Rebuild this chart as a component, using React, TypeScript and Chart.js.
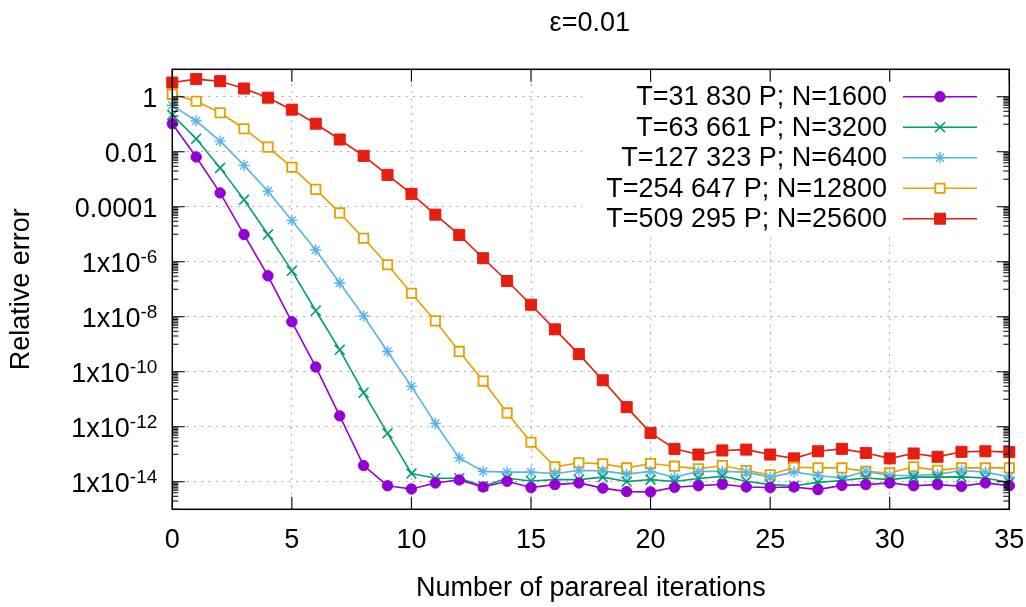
import React, { useEffect, useRef } from 'react';
import { Chart, registerables } from 'chart.js';
import { drawPoint } from 'chart.js/helpers';

Chart.register(...registerables);

// ---------------- data ----------------
const chartTitle = 'ε=0.01';
const xAxisTitle = 'Number of parareal iterations';
const yAxisTitle = 'Relative error';

const iterations = [
  0, 1, 2, 3, 4, 5, 6, 7, 8, 9, 10, 11, 12, 13, 14, 15, 16, 17,
  18, 19, 20, 21, 22, 23, 24, 25, 26, 27, 28, 29, 30, 31, 32, 33, 34, 35,
];

const seriesLabels = [
  'T=31 830 P; N=1600',
  'T=63 661 P; N=3200',
  'T=127 323 P; N=6400',
  'T=254 647 P; N=12800',
  'T=509 295 P; N=25600',
];

const errN1600 = [
  1.05e-1, 6.5e-3, 3.2e-4, 9.8e-6, 3.1e-7, 6.6e-9, 1.5e-10, 2.5e-12, 3.9e-14, 7.2e-15,
  5.5e-15, 9.1e-15, 1.17e-14, 6.5e-15, 1.05e-14, 6.2e-15, 7.9e-15, 9.1e-15, 5.9e-15, 4.4e-15,
  4.3e-15, 6.3e-15, 7.2e-15, 8.1e-15, 6.5e-15, 6.2e-15, 6.5e-15, 5.2e-15, 7.4e-15, 7.9e-15,
  9.1e-15, 7.2e-15, 7.9e-15, 6.9e-15, 9.1e-15, 7.2e-15,
];

const errN3200 = [
  2.2e-1, 3.0e-2, 2.6e-3, 1.8e-4, 9.8e-6, 4.7e-7, 1.66e-8, 6.3e-10, 1.74e-11, 5.8e-13,
  2.0e-14, 1.35e-14, 1.35e-14, 6.9e-15, 1.35e-14, 1.07e-14, 1.2e-14, 1.2e-14, 1.48e-14, 1.02e-14,
  1.2e-14, 1.02e-14, 1.32e-14, 1.58e-14, 1.05e-14, 7.9e-15, 7.2e-15, 9.5e-15, 1.12e-14, 1.38e-14,
  1.2e-14, 1.48e-14, 1.48e-14, 1.51e-14, 1.38e-14, 9.5e-15,
];

const errN6400 = [
  4.9e-1, 1.32e-1, 2.45e-2, 3.2e-3, 3.7e-4, 3.2e-5, 2.7e-6, 1.7e-7, 1.07e-8, 5.5e-10,
  2.95e-11, 1.32e-12, 7.4e-14, 2.4e-14, 2.24e-14, 2.24e-14, 2.0e-14, 2.57e-14, 2.5e-14, 1.9e-14,
  2.4e-14, 1.45e-14, 2.4e-14, 2.4e-14, 2.24e-14, 1.48e-14, 2.24e-14, 1.7e-14, 1.38e-14, 2.4e-14,
  1.7e-14, 1.7e-14, 1.86e-14, 2.57e-14, 2.24e-14, 1.51e-14,
];

const errN12800 = [
  1.23, 6.9e-1, 2.63e-1, 6.9e-2, 1.48e-2, 2.75e-3, 4.3e-4, 6.0e-5, 7.2e-6, 7.8e-7,
  7.2e-8, 7.1e-9, 5.5e-10, 4.6e-11, 3.2e-12, 2.75e-13, 3.5e-14, 4.9e-14, 4.5e-14, 3.2e-14,
  4.6e-14, 3.7e-14, 2.95e-14, 3.9e-14, 2.57e-14, 1.8e-14, 3.4e-14, 3.2e-14, 3.2e-14, 2.4e-14,
  2.1e-14, 3.5e-14, 2.6e-14, 3.2e-14, 3.2e-14, 3.2e-14,
];

const errN25600 = [
  3.3, 4.4, 3.7, 2.0, 9.3e-1, 3.4e-1, 1.05e-1, 2.8e-2, 7.1e-3, 1.45e-3,
  2.95e-4, 5.2e-5, 9.5e-6, 1.35e-6, 2.0e-7, 2.75e-8, 3.5e-9, 4.4e-10, 4.9e-11, 5.2e-12,
  6.0e-13, 1.58e-13, 9.8e-14, 1.38e-13, 1.48e-13, 9.8e-14, 7.1e-14, 1.29e-13, 1.58e-13, 1.12e-13,
  7.1e-14, 1.07e-13, 8.1e-14, 1.23e-13, 1.29e-13, 1.2e-13,
];

const yMajorTicks = [1e-14, 1e-12, 1e-10, 1e-8, 1e-6, 1e-4, 1e-2, 1];
const yTickMain = ['1x10', '1x10', '1x10', '1x10', '1x10', '0.0001', '0.01', '1'];
const yTickSup = ['-14', '-12', '-10', '-8', '-6', '', '', ''];
const yMinorDecades = [1e-15, 1e-13, 1e-11, 1e-9, 1e-7, 1e-5, 1e-3, 1e-1];
const yMinorSteps = [1, 2, 3, 4, 5, 6, 7, 8, 9];

// ---------------- styling ----------------
const FONT = '"Liberation Sans", Arial, Helvetica, sans-serif';
const FS = 27;
const GRID_COLOR = '#a8a8a8';
const GRID_DASH = [2, 5.3];

const seriesStyles = [
  { color: '#9400d3', pointStyle: 'circle', radius: 5.2, pbw: 1, fill: '#9400d3' },
  { color: '#009e73', pointStyle: 'crossRot', radius: 7, pbw: 1.6, fill: '#009e73' },
  { color: '#56b4e9', pointStyle: 'star', radius: 5.6, pbw: 1.4, fill: '#56b4e9' },
  { color: '#e69f00', pointStyle: 'rect', radius: 6.6, pbw: 1.8, fill: '#ffffff' },
  { color: '#e51e10', pointStyle: 'rect', radius: 7.8, pbw: 1, fill: '#e51e10' },
];

const seriesValues = [errN1600, errN3200, errN6400, errN12800, errN25600];

const decorPlugin = {
  id: 'gnuplotDecor',
  beforeDraw(chart: any) {
    const { ctx, width, height } = chart;
    ctx.save();
    ctx.fillStyle = '#ffffff';
    ctx.fillRect(0, 0, width, height);
    ctx.restore();
  },
  afterDatasetsDraw(chart: any) {
    const { ctx, chartArea: ca, scales } = chart;
    const xs = scales.x;
    const ys = scales.y;
    ctx.save();

    // ---- legend (opaque key) ----
    ctx.fillStyle = '#ffffff';
    ctx.fillRect(ca.right - 427, ca.top + 10.7, 411, 155);
    const rowY0 = ca.top + 27.4;
    const rowStep = 30.5;
    seriesLabels.forEach((label, i) => {
      const st = seriesStyles[i];
      const y = rowY0 + i * rowStep;
      ctx.font = `${FS}px ${FONT}`;
      ctx.fillStyle = '#000';
      ctx.textAlign = 'right';
      ctx.textBaseline = 'middle';
      ctx.fillText(label, ca.right - 122.3, y + 1);
      ctx.strokeStyle = st.color;
      ctx.lineWidth = 1.6;
      ctx.beginPath();
      ctx.moveTo(ca.right - 106.3, y);
      ctx.lineTo(ca.right - 32.3, y);
      ctx.stroke();
      ctx.fillStyle = st.fill;
      ctx.strokeStyle = st.color;
      ctx.lineWidth = st.pbw;
      drawPoint(ctx, { pointStyle: st.pointStyle as any, rotation: 0, radius: st.radius, borderWidth: st.pbw }, ca.right - 69.3, y);
    });

    // ---- frame ----
    ctx.strokeStyle = '#000';
    ctx.lineWidth = 1.5;
    ctx.strokeRect(ca.left, ca.top, ca.right - ca.left, ca.bottom - ca.top);

    // ---- inward ticks ----
    ctx.lineWidth = 1.1;
    ctx.beginPath();
    const MAJ = 12.5;
    const MIN = 6;
    xs.ticks.forEach((t: any) => {
      const px = xs.getPixelForValue(t.value);
      ctx.moveTo(px, ca.bottom);
      ctx.lineTo(px, ca.bottom - MAJ);
      ctx.moveTo(px, ca.top);
      ctx.lineTo(px, ca.top + MAJ);
    });
    yMajorTicks.forEach((v) => {
      const py = ys.getPixelForValue(v);
      ctx.moveTo(ca.left, py);
      ctx.lineTo(ca.left + MAJ, py);
      ctx.moveTo(ca.right, py);
      ctx.lineTo(ca.right - MAJ, py);
    });
    yMinorDecades.forEach((d) => {
      yMinorSteps.forEach((k) => {
        const v = d * k;
        if (v < ys.min || v > ys.max) return;
        const py = ys.getPixelForValue(v);
        ctx.moveTo(ca.left, py);
        ctx.lineTo(ca.left + MIN, py);
        ctx.moveTo(ca.right, py);
        ctx.lineTo(ca.right - MIN, py);
      });
    });
    ctx.stroke();

    // ---- y tick labels (with superscripts) ----
    ctx.fillStyle = '#000';
    ctx.textBaseline = 'alphabetic';
    ctx.textAlign = 'right';
    const rightEdge = ca.left - 15;
    yMajorTicks.forEach((v, i) => {
      const py = ys.getPixelForValue(v);
      const sup = yTickSup[i];
      let supW = 0;
      if (sup) {
        ctx.font = `${19}px ${FONT}`;
        supW = ctx.measureText(sup).width;
        ctx.fillText(sup, rightEdge, py + 0.8);
      }
      ctx.font = `${FS}px ${FONT}`;
      ctx.fillText(yTickMain[i], rightEdge - supW, py + 9.8);
    });

    // ---- title ----
    ctx.font = `${FS}px ${FONT}`;
    ctx.textAlign = 'center';
    ctx.textBaseline = 'alphabetic';
    ctx.fillText(chartTitle, (ca.left + ca.right) / 2 - 1, 31);

    ctx.restore();
  },
};

export default function App() {
  const ref = useRef<HTMLCanvasElement>(null);
  useEffect(() => {
    document.body.style.margin = '0';
    const canvas = ref.current!;
    const datasets = seriesValues.map((vals, i) => {
      const st = seriesStyles[i];
      return {
        label: seriesLabels[i],
        data: iterations.map((x, j) => ({ x, y: vals[j] })),
        borderColor: st.color,
        backgroundColor: st.fill,
        pointBackgroundColor: st.fill,
        pointBorderColor: st.color,
        pointStyle: st.pointStyle,
        pointRadius: st.radius,
        pointBorderWidth: st.pbw,
        borderWidth: 1.6,
        tension: 0,
        clip: false as any,
      };
    });
    const chart = new Chart(canvas, {
      type: 'line',
      data: { datasets: datasets as any },
      plugins: [decorPlugin],
      options: {
        animation: false,
        responsive: false,
        events: [],
        layout: { padding: { top: 69.3, right: 16.7, left: 0, bottom: 0 } },
        plugins: {
          legend: { display: false },
          tooltip: { enabled: false },
          title: { display: false },
        },
        scales: {
          x: {
            type: 'linear',
            min: 0,
            max: 35,
            ticks: {
              stepSize: 5,
              color: '#000',
              font: { family: FONT, size: FS },
              padding: 15.1,
              maxRotation: 0,
            },
            grid: { color: GRID_COLOR, lineWidth: 1, drawTicks: false, borderDash: GRID_DASH } as any,
            border: { display: false, dash: GRID_DASH },
            title: {
              display: true,
              text: xAxisTitle,
              color: '#000',
              font: { family: FONT, size: FS },
              padding: { top: 0, bottom: 2.2 },
            },
            afterFit: (s: any) => {
              s.height = 97.7;
              s.paddingLeft = 0;
              s.paddingRight = 0;
            },
          },
          y: {
            type: 'logarithmic',
            min: 1e-15,
            max: 10,
            afterBuildTicks: (s: any) => {
              s.ticks = yMajorTicks.map((v) => ({ value: v }));
            },
            ticks: { display: false },
            grid: { color: GRID_COLOR, lineWidth: 1, drawTicks: false, borderDash: GRID_DASH } as any,
            border: { display: false, dash: GRID_DASH },
            title: {
              display: true,
              text: yAxisTitle,
              color: '#000',
              font: { family: FONT, size: FS },
              padding: { top: 5.4, bottom: 0 },
            },
            afterFit: (s: any) => {
              s.width = 172.3;
              s.paddingTop = 0;
              s.paddingBottom = 0;
            },
          },
        },
      } as any,
    });
    return () => chart.destroy();
  }, []);
  return (
    <div style={{ position: 'relative', width: 1026, height: 607 }}>
      <canvas ref={ref} width={1026} height={607} style={{ display: 'block' }} />
    </div>
  );
}
